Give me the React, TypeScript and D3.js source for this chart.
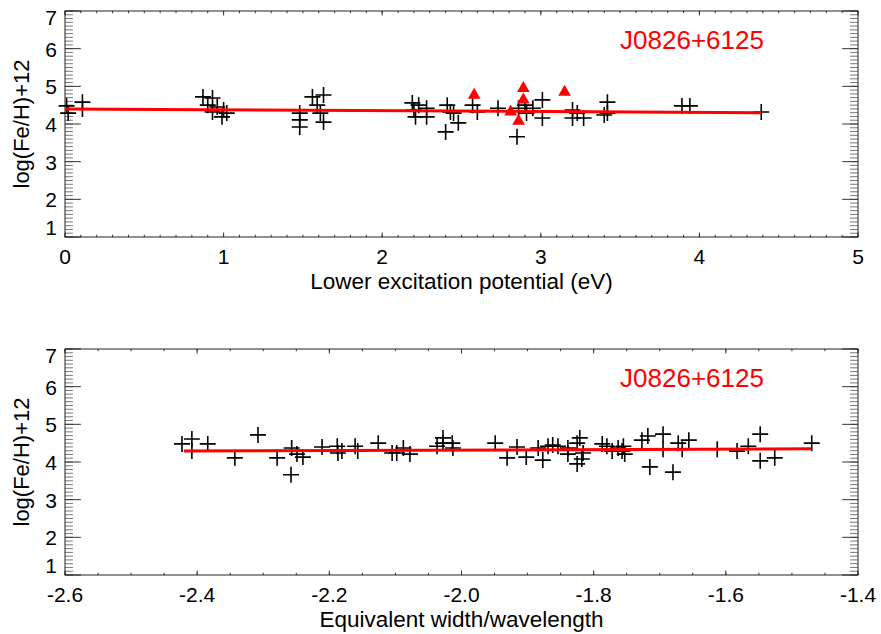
import React from 'react';
import * as d3 from 'd3';

// top panel: lower excitation potential (eV) vs log(Fe/H)+12
const epX = [0.01, 0.02, 0.11, 0.11, 0.87, 0.93, 0.90, 0.96, 1.00, 0.99, 1.02, 0.93,
  1.48, 1.48, 1.48, 1.56, 1.63, 1.59, 1.61, 1.63,
  2.19, 2.20, 2.21, 2.23, 2.28, 2.28, 2.41, 2.43, 2.40, 2.48, 2.45,
  2.57, 2.60, 2.73, 2.85, 2.86, 2.90, 2.91, 2.95, 3.01, 3.01, 3.20,
  3.23, 3.27, 3.20, 3.42, 3.42, 3.40, 3.89, 3.94, 4.39];
const epY = [4.48, 4.29, 4.58, 4.40, 4.72, 4.69, 4.50, 4.45, 4.37, 4.19, 4.29, 4.32,
  4.29, 4.11, 3.92, 4.72, 4.77, 4.50, 4.29, 4.05,
  4.56, 4.37, 4.19, 4.50, 4.42, 4.19, 4.50, 4.32, 3.79, 4.03, 4.29,
  4.50, 4.32, 4.42, 3.66, 4.42, 4.50, 4.29, 4.42, 4.64, 4.16, 4.37,
  4.29, 4.16, 4.16, 4.58, 4.29, 4.24, 4.48, 4.48, 4.32];
// red triangles (Fe II)
const epTriX = [2.58, 2.81, 2.89, 2.89, 2.86, 3.15];
const epTriY = [4.77, 4.32, 4.95, 4.64, 4.08, 4.85];
const epFitX = [0, 4.39];
const epFitY = [4.40, 4.30];

// bottom panel: equivalent width / wavelength vs log(Fe/H)+12
const ewX = [-2.423, -2.408, -2.408, -2.384, -2.343, -2.308, -2.279, -2.258, -2.257, -2.249,
  -2.240, -2.211, -2.188, -2.187, -2.181, -2.161, -2.157, -2.126, -2.105, -2.098,
  -2.088, -2.078, -2.037, -2.028, -2.028, -2.014, -2.013, -1.949, -1.931, -1.916,
  -1.902, -1.884, -1.877, -1.869, -1.862, -1.854, -1.839, -1.839, -1.825, -1.821,
  -1.825, -1.818, -1.816, -1.787, -1.780, -1.772, -1.763, -1.757, -1.755, -1.753,
  -1.727, -1.718, -1.715, -1.695, -1.695, -1.680, -1.672, -1.666, -1.656, -1.613,
  -1.583, -1.566, -1.548, -1.548, -1.526, -1.470];
const ewY = [4.48, 4.61, 4.29, 4.48, 4.11, 4.72, 4.11, 3.66, 4.37, 4.21,
  4.13, 4.40, 4.42, 4.24, 4.29, 4.42, 4.29, 4.50, 4.24, 4.24,
  4.37, 4.21, 4.42, 4.50, 4.64, 4.50, 4.37, 4.50, 4.11, 4.40,
  4.13, 4.37, 4.05, 4.42, 4.45, 4.42, 4.37, 4.21, 4.50, 4.64,
  3.95, 4.08, 4.24, 4.48, 4.42, 4.29, 4.37, 4.29, 4.42, 4.21,
  4.58, 4.69, 3.87, 4.74, 4.34, 3.73, 4.50, 4.34, 4.58, 4.34,
  4.29, 4.42, 4.74, 4.03, 4.11, 4.50];
const ewFitX = [-2.42, -1.47];
const ewFitY = [4.29, 4.35];

const yTicks = [1, 2, 3, 4, 5, 6, 7];
const epTicks = [0, 1, 2, 3, 4, 5];
const ewTicks = [-2.6, -2.4, -2.2, -2.0, -1.8, -1.6, -1.4];

const starName = 'J0826+6125';
const yTitle = 'log(Fe/H)+12';

const FONT = '"Liberation Sans", Arial, Helvetica, sans-serif';
const left = 65;
const right = 858;

type PanelProps = {
  top: number;
  bottom: number;
  xDomain: [number, number];
  xTicks: number[];
  xMinor: number;
  fmt: (d: number) => string;
  xTitle: string;
  px: number[];
  py: number[];
  tx?: number[];
  ty?: number[];
  fitX: number[];
  fitY: number[];
};

function Panel(p: PanelProps) {
  const x = d3.scaleLinear().domain(p.xDomain).range([left, right]);
  const y = d3.scaleLinear().domain([1, 7]).range([p.bottom, p.top]);
  const xMajLen = 0.02 * (p.bottom - p.top);
  const yMajLen = 0.02 * (right - left);
  const xMinorTicks = d3.range(p.xDomain[0], p.xDomain[1] + 1e-6, p.xMinor);
  const yMinorTicks = d3.range(1, 7.0001, 0.1);
  const line = d3.line<number>().x((d, i) => x(p.fitX[i])).y((d, i) => y(p.fitY[i]));
  const tri = d3.symbol().type(d3.symbolTriangle).size(70)();
  const tickCol = '#333';

  return (
    <g>
      {/* y minor ticks, left and right */}
      {yMinorTicks.map((t, i) => (
        <g key={'ym' + i} stroke="#777" strokeWidth={1}>
          <line x1={left} x2={left + yMajLen / 2} y1={y(t)} y2={y(t)} />
          <line x1={right} x2={right - yMajLen / 2} y1={y(t)} y2={y(t)} />
        </g>
      ))}
      {yTicks.map((t) => (
        <g key={'yM' + t} stroke={tickCol} strokeWidth={1}>
          <line x1={left} x2={left + yMajLen} y1={y(t)} y2={y(t)} />
          <line x1={right} x2={right - yMajLen} y1={y(t)} y2={y(t)} />
        </g>
      ))}
      {xMinorTicks.map((t, i) => (
        <g key={'xm' + i} stroke={tickCol} strokeWidth={1}>
          <line x1={x(t)} x2={x(t)} y1={p.bottom} y2={p.bottom - xMajLen / 2} />
          <line x1={x(t)} x2={x(t)} y1={p.top} y2={p.top + xMajLen / 2} />
        </g>
      ))}
      {p.xTicks.map((t) => (
        <g key={'xM' + t} stroke={tickCol} strokeWidth={1}>
          <line x1={x(t)} x2={x(t)} y1={p.bottom} y2={p.bottom - xMajLen} />
          <line x1={x(t)} x2={x(t)} y1={p.top} y2={p.top + xMajLen} />
        </g>
      ))}
      <rect x={left} y={p.top} width={right - left} height={p.bottom - p.top}
        fill="none" stroke="#222" strokeWidth={1} />

      {/* tick labels */}
      {yTicks.map((t, i) => {
        let yy = y(t) + 8;
        if (i === 0) yy = p.bottom - 2;
        if (i === yTicks.length - 1) yy = p.top + 14;
        return (
          <text key={'yl' + t} x={left - 8} y={yy} textAnchor="end"
            fontFamily={FONT} fontSize={21} fill="#000">{t}</text>
        );
      })}
      {p.xTicks.map((t) => (
        <text key={'xl' + t} x={x(t)} y={p.bottom + 27} textAnchor="middle"
          fontFamily={FONT} fontSize={21} fill="#000">{p.fmt(t)}</text>
      ))}
      <text x={(left + right) / 2} y={p.bottom + 52} textAnchor="middle"
        fontFamily={FONT} fontSize={22.5} fill="#000">{p.xTitle}</text>
      <text transform={`translate(29,${(p.top + p.bottom) / 2}) rotate(-90)`}
        textAnchor="middle" fontFamily={FONT} fontSize={22} fill="#000">{yTitle}</text>

      {/* data */}
      {p.px.map((v, i) => (
        <path key={'p' + i} transform={`translate(${x(v)},${y(p.py[i])})`}
          d="M-8,0H8M0,-8V8" stroke="#000" strokeWidth={1.6} fill="none" />
      ))}
      {(p.tx || []).map((v, i) => (
        <path key={'t' + i} transform={`translate(${x(v)},${y((p.ty || [])[i])})`}
          d={tri || ''} fill="#ff0000" />
      ))}
      <path d={line(p.fitX) || ''} fill="none" stroke="#ff0000" strokeWidth={3} />

      <text x={x(p.xDomain[0] + 0.7 * (p.xDomain[1] - p.xDomain[0]))} y={y(6)}
        fontFamily={FONT} fontSize={26} fill="#ff0000">{starName}</text>
    </g>
  );
}

export default function App() {
  return (
    <svg width={881} height={634} style={{ position: 'absolute', left: 0, top: 0, background: '#fff' }}>
      <rect width={881} height={634} fill="#fff" />
      <Panel top={11} bottom={237} xDomain={[0, 5]} xTicks={epTicks} xMinor={0.1}
        fmt={(d) => String(d)} xTitle="Lower excitation potential (eV)"
        px={epX} py={epY} tx={epTriX} ty={epTriY} fitX={epFitX} fitY={epFitY} />
      <Panel top={349} bottom={575} xDomain={[-2.6, -1.4]} xTicks={ewTicks} xMinor={0.05}
        fmt={(d) => d.toFixed(1)} xTitle="Equivalent width/wavelength"
        px={ewX} py={ewY} fitX={ewFitX} fitY={ewFitY} />
    </svg>
  );
}
